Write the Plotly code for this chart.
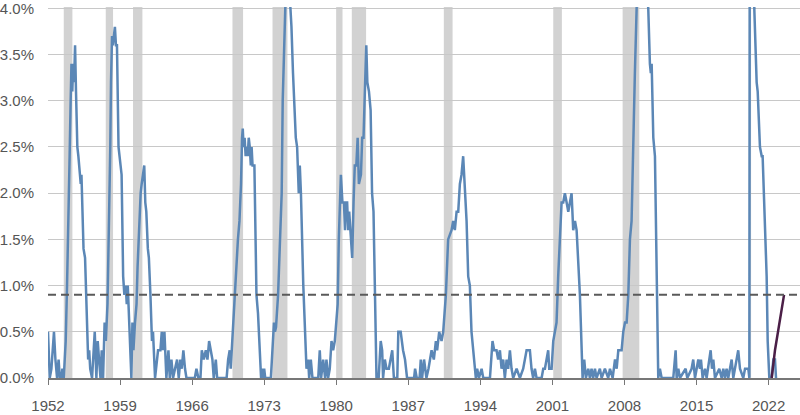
import plotly.graph_objects as go

# Serie principal: brecha del desempleo (puntos porcentuales), fechas en años decimales
fechas = [
    1952.00, 1952.08, 1952.17, 1952.33, 1952.42, 1952.58, 1952.72, 1952.88, 1953.03, 1953.15,
    1953.30, 1953.40, 1953.53, 1953.72, 1953.85, 1954.00, 1954.10, 1954.20, 1954.28, 1954.36,
    1954.45, 1954.53, 1954.63, 1954.72, 1954.85, 1954.95, 1955.10, 1955.18, 1955.25, 1955.45,
    1955.60, 1955.90, 1956.00, 1956.10, 1956.28, 1956.43, 1956.54, 1956.70, 1956.83, 1956.96,
    1957.10, 1957.22, 1957.35, 1957.50, 1957.62, 1957.78, 1957.92, 1958.05, 1958.12, 1958.22,
    1958.30, 1958.40, 1958.50, 1958.60, 1958.70, 1958.85, 1959.05, 1959.15, 1959.30, 1959.42,
    1959.55, 1959.65, 1959.75, 1959.85, 1959.95, 1960.10, 1960.20, 1960.30, 1960.45, 1960.60,
    1960.70, 1960.85, 1961.00, 1961.10, 1961.20, 1961.35, 1961.45, 1961.55, 1961.70, 1961.80,
    1961.95, 1962.10, 1962.20, 1962.40, 1962.69, 1962.92, 1963.05, 1963.18, 1963.31, 1963.50,
    1963.70, 1963.83, 1963.99, 1964.15, 1964.34, 1964.54, 1964.70, 1964.86, 1964.99, 1965.15,
    1965.31, 1965.45, 1966.26, 1966.42, 1966.61, 1966.81, 1966.94, 1967.13, 1967.33, 1967.49,
    1967.65, 1967.81, 1967.97, 1968.10, 1968.30, 1968.43, 1969.35, 1969.50, 1969.65, 1969.75,
    1969.85, 1969.95, 1970.10, 1970.30, 1970.45, 1970.60, 1970.75, 1970.85, 1970.92, 1971.00,
    1971.10, 1971.20, 1971.30, 1971.40, 1971.50, 1971.60, 1971.70, 1971.78, 1971.87, 1972.05,
    1972.25, 1972.40, 1972.55, 1972.70, 1972.80, 1972.90, 1973.00, 1973.10, 1973.65, 1973.80,
    1973.95, 1974.05, 1974.15, 1974.35, 1974.50, 1974.70, 1974.80, 1974.90, 1975.05, 1975.25,
    1975.45, 1975.55, 1975.65, 1975.80, 1976.07, 1976.20, 1976.36, 1976.46, 1976.57, 1976.80,
    1976.98, 1977.11, 1977.27, 1977.37, 1977.53, 1977.69, 1978.25, 1978.40, 1978.53, 1978.73,
    1978.92, 1979.05, 1979.21, 1979.37, 1979.54, 1979.70, 1979.86, 1980.02, 1980.14, 1980.25,
    1980.35, 1980.45, 1980.60, 1980.75, 1980.85, 1980.95, 1981.06, 1981.16, 1981.26, 1981.39,
    1981.55, 1981.68, 1981.80, 1981.95, 1982.08, 1982.20, 1982.40, 1982.52, 1982.65, 1982.78,
    1982.92, 1983.02, 1983.18, 1983.34, 1983.48, 1983.62, 1983.80, 1983.91, 1984.12, 1984.32,
    1984.46, 1984.55, 1984.72, 1984.88, 1985.11, 1985.27, 1985.44, 1985.60, 1985.93, 1986.03,
    1986.26, 1986.49, 1986.68, 1986.88, 1987.56, 1987.66, 1987.82, 1988.10, 1988.21, 1988.34,
    1988.53, 1988.76, 1988.96, 1989.26, 1989.48, 1989.68, 1989.80, 1990.00, 1990.23, 1990.39,
    1990.65, 1990.87, 1991.20, 1991.36, 1991.52, 1991.69, 1991.85, 1992.01, 1992.17, 1992.33,
    1992.50, 1992.66, 1992.82, 1992.98, 1993.14, 1993.30, 1993.56, 1993.69, 1993.86, 1994.12,
    1994.28, 1994.93, 1995.18, 1995.34, 1995.57, 1995.73, 1995.90, 1996.06, 1996.22, 1996.38,
    1996.55, 1996.70, 1996.87, 1997.03, 1997.19, 1997.52, 1997.84, 1998.16, 1998.49, 1998.81,
    1998.97, 1999.13, 1999.30, 1999.46, 1999.95, 2000.11, 2000.27, 2000.43, 2000.59, 2000.69,
    2000.92, 2001.08, 2001.24, 2001.40, 2001.56, 2001.73, 2001.89, 2002.05, 2002.21, 2002.38,
    2002.54, 2002.70, 2002.86, 2003.02, 2003.19, 2003.35, 2003.51, 2003.67, 2003.93, 2004.09,
    2004.25, 2004.48, 2004.64, 2004.80, 2004.96, 2005.13, 2005.29, 2005.61, 2005.78, 2006.10,
    2006.42, 2006.59, 2006.85, 2007.08, 2007.24, 2007.40, 2007.72, 2007.88, 2008.05, 2008.21,
    2008.37, 2008.53, 2008.69, 2008.85, 2009.01, 2009.18, 2009.50, 2009.90, 2010.31, 2010.47,
    2010.56, 2010.64, 2010.80, 2010.96, 2011.12, 2011.28, 2011.44, 2011.61, 2012.74, 2012.97,
    2013.07, 2013.23, 2013.39, 2013.94, 2014.10, 2014.52, 2014.68, 2014.85, 2015.01, 2015.17,
    2015.33, 2015.43, 2015.59, 2015.82, 2015.98, 2016.24, 2016.37, 2016.50, 2016.63, 2016.79,
    2017.21, 2017.44, 2017.60, 2017.76, 2017.92, 2018.08, 2018.25, 2018.41, 2018.57, 2018.73,
    2018.89, 2019.05, 2019.22, 2019.54, 2019.71, 2020.03, 2020.13, 2020.22, 2020.40, 2020.61,
    2020.84, 2020.94, 2021.16, 2021.33, 2021.42, 2021.58, 2021.81, 2021.91, 2022.07, 2022.30,
    2022.46, 2022.62, 2022.72,
]
brecha = [
    0.5, 0.1, 0.0, 0.1, 0.3, 0.5, 0.2, 0.0, 0.2, 0.0,
    0.0, 0.1, 0.0, 0.4, 1.0, 1.7, 2.4, 3.0, 3.4, 3.1,
    3.4, 3.2, 3.6, 3.1, 2.5, 2.4, 2.2, 2.1, 2.2, 1.4,
    1.3, 0.2, 0.3, 0.1, 0.0, 0.3, 0.5, 0.0, 0.4, 0.2,
    0.0, 0.3, 0.0, 0.6, 0.4, 0.8, 1.5, 2.5, 3.2, 3.7,
    3.6, 3.7, 3.8, 3.6, 3.6, 2.5, 2.3, 2.2, 1.1, 0.9,
    1.0, 0.8, 1.0, 0.7, 0.6, 0.0, 0.6, 0.3, 0.6, 0.8,
    1.2, 1.7, 2.0, 2.1, 2.2, 2.3, 1.9, 1.8, 1.4, 1.3,
    0.9, 0.4, 0.5, 0.0, 0.3, 0.3, 0.5, 0.3, 0.5, 0.0,
    0.3, 0.0, 0.2, 0.0, 0.1, 0.2, 0.0, 0.2, 0.1, 0.3,
    0.1, 0.0, 0.0, 0.1, 0.0, 0.0, 0.3, 0.2, 0.3, 0.2,
    0.4, 0.3, 0.2, 0.0, 0.2, 0.0, 0.0, 0.2, 0.3, 0.1,
    0.3, 0.6, 0.9, 1.3, 1.5, 1.7, 2.1, 2.6, 2.7, 2.5,
    2.6, 2.4, 2.5, 2.4, 2.6, 2.5, 2.3, 2.5, 2.3, 2.3,
    0.9, 0.7, 0.3, 0.0, 0.1, 0.0, 0.1, 0.0, 0.0, 0.3,
    0.6, 0.5, 0.55, 0.9, 1.3, 2.0, 3.0, 3.5, 4.0, 4.4,
    4.2, 4.0, 3.8, 3.3, 2.6, 2.5, 2.0, 2.3, 2.0, 1.0,
    0.5, 0.1, 0.2, 0.0, 0.2, 0.0, 0.0, 0.3, 0.0, 0.2,
    0.0, 0.2, 0.0, 0.1, 0.4, 0.3, 0.4, 0.7, 0.8, 1.5,
    1.9, 2.2, 1.9, 1.9, 1.6, 1.9, 1.9, 1.6, 1.8, 1.6,
    1.3, 1.9, 2.3, 2.3, 2.6, 2.1, 2.2, 2.6, 2.6, 3.1,
    3.6, 3.2, 3.1, 2.9, 2.0, 1.8, 0.9, 0.0, 0.0, 0.4,
    0.3, 0.0, 0.2, 0.1, 0.1, 0.2, 0.3, 0.0, 0.0, 0.5,
    0.5, 0.3, 0.2, 0.0, 0.0, 0.1, 0.0, 0.0, 0.2, 0.0,
    0.2, 0.0, 0.1, 0.3, 0.2, 0.4, 0.3, 0.5, 0.4, 0.5,
    0.9, 1.5, 1.6, 1.7, 1.6, 1.8, 1.8, 2.1, 2.2, 2.4,
    2.0, 1.7, 1.1, 1.0, 0.5, 0.3, 0.0, 0.1, 0.0, 0.1,
    0.0, 0.0, 0.4, 0.3, 0.3, 0.2, 0.3, 0.1, 0.2, 0.0,
    0.2, 0.1, 0.3, 0.1, 0.0, 0.1, 0.0, 0.1, 0.3, 0.3,
    0.1, 0.0, 0.1, 0.0, 0.0, 0.1, 0.1, 0.2, 0.3, 0.1,
    0.1, 0.4, 0.5, 0.6, 1.1, 1.6, 1.9, 1.9, 2.0, 1.9,
    1.8, 1.9, 2.0, 1.6, 1.7, 1.6, 1.3, 0.9, 0.0, 0.2,
    0.0, 0.1, 0.0, 0.1, 0.0, 0.1, 0.0, 0.1, 0.0, 0.1,
    0.0, 0.1, 0.0, 0.2, 0.1, 0.3, 0.3, 0.5, 0.6, 0.6,
    0.9, 1.5, 1.7, 2.7, 3.3, 4.0, 5.1, 4.6, 4.0, 3.4,
    3.3, 3.4, 2.6, 2.4, 0.9, 0.0, 0.1, 0.0, 0.0, 0.3,
    0.0, 0.1, 0.0, 0.1, 0.0, 0.1, 0.2, 0.0, 0.1, 0.2,
    0.1, 0.2, 0.0, 0.1, 0.0, 0.2, 0.3, 0.1, 0.2, 0.0,
    0.1, 0.0, 0.1, 0.0, 0.1, 0.0, 0.1, 0.2, 0.0, 0.1,
    0.2, 0.3, 0.1, 0.0, 0.1, 0.1, 0.0, 11.2, 10.5, 4.0,
    3.2, 3.1, 2.5, 2.4, 2.4, 1.8, 1.1, 0.4, 0.0, 0.0,
    0.2, 0.2, 0.0,
]

# Tramo reciente (proyección)
fechas_proy = [2022.30, 2022.62, 2023.50]
brecha_proy = [0.0, 0.3, 0.9]

# Recesiones (inicio, fin)
rec_inicio = [1953.53, 1957.61, 1960.26, 1969.92, 1973.81, 1979.99, 1981.51, 1990.45, 2001.08, 2007.82, 2020.08]
rec_fin = [1954.37, 1958.32, 1961.17, 1970.95, 1975.26, 1980.61, 1982.90, 1991.30, 2001.92, 2009.44, 2020.30]

umbral = 0.9
ticks_x = [1952, 1959, 1966, 1973, 1980, 1987, 1994, 2001, 2008, 2015, 2022]
ticks_y = [0.0, 0.5, 1.0, 1.5, 2.0, 2.5, 3.0, 3.5, 4.0]

fuente = "Liberation Sans, Arial, sans-serif"

fig = go.Figure()

fig.add_trace(go.Scatter(x=fechas, y=brecha, mode="lines",
                         line=dict(color="#5b87b6", width=2.5)))
fig.add_trace(go.Scatter(x=fechas_proy, y=brecha_proy, mode="lines",
                         line=dict(color="#4b1f47", width=2.5)))

# Franjas de recesión
for ini, fin in zip(rec_inicio, rec_fin):
    fig.add_vrect(x0=ini, x1=fin, fillcolor="#d2d2d2", opacity=1,
                  line_width=0, layer="below")

# Línea de umbral
fig.add_hline(y=umbral, line=dict(color="#5a5a5a", width=2, dash="8px,5px"))

fig.update_layout(
    width=800, height=415,
    margin=dict(l=48, r=0, t=5, b=37),
    plot_bgcolor="white", paper_bgcolor="white",
    showlegend=False,
    font=dict(family=fuente, size=15, color="#555555"),
)

fig.update_xaxes(range=[1952, 2025.05], tickvals=ticks_x,
                 ticktext=[str(t) for t in ticks_x],
                 showgrid=False, zeroline=False,
                 showline=True, linecolor="#777777", linewidth=1.5,
                 ticks="outside", ticklen=5, tickcolor="#777777",
                 ticklabelstandoff=8)

# rango apenas por encima de 4 para que se vea la línea superior
fig.update_yaxes(range=[0, 4.015], tickvals=ticks_y,
                 ticktext=[f"{t:.1f}%" for t in ticks_y],
                 showgrid=True, gridcolor="#c8c8c8", gridwidth=1,
                 zeroline=False, ticks="", ticklabelstandoff=13,
                 ticklabeloverflow="allow")

# Quitar el margen del body para que el gráfico quede en la esquina
fig.write_html("out.html", config={"displayModeBar": False},
               post_script="document.body.style.margin='0';")
